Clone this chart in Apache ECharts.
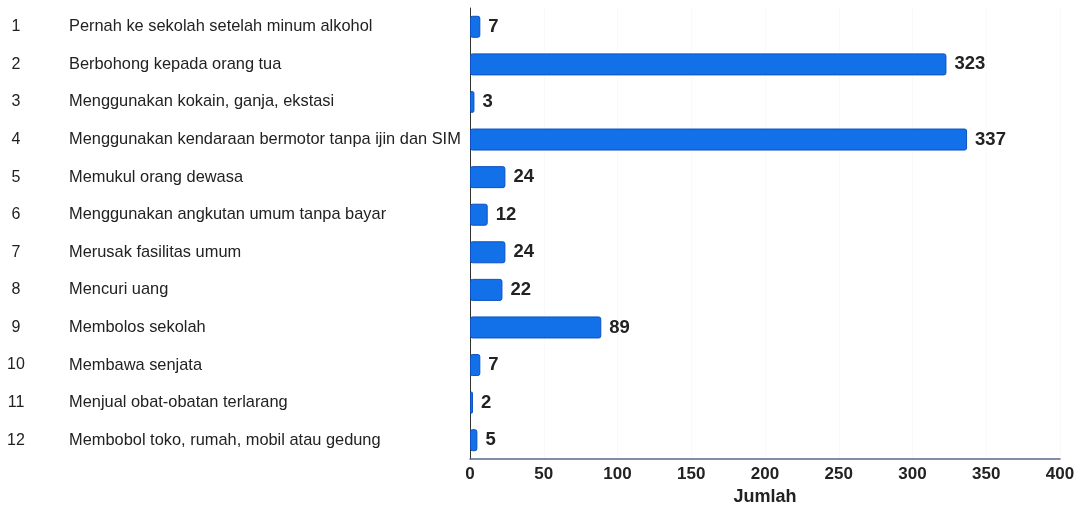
<!DOCTYPE html>
<html><head><meta charset="utf-8">
<script src="https://cdn.jsdelivr.net/npm/echarts@6/dist/echarts.min.js"></script>
<style>html,body{margin:0;padding:0;background:#fff}#c{width:1079px;height:509px}</style>
</head><body><div id="c"></div>
<script>
const numbers = ['1','2','3','4','5','6','7','8','9','10','11','12'];
const categories = [
  'Pernah ke sekolah setelah minum alkohol',
  'Berbohong kepada orang tua',
  'Menggunakan kokain, ganja, ekstasi',
  'Menggunakan kendaraan bermotor tanpa ijin dan SIM',
  'Memukul orang dewasa',
  'Menggunakan angkutan umum tanpa bayar',
  'Merusak fasilitas umum',
  'Mencuri uang',
  'Membolos sekolah',
  'Membawa senjata',
  'Menjual obat-obatan terlarang',
  'Membobol toko, rumah, mobil atau gedung'
];
const values = [7, 323, 3, 337, 24, 12, 24, 22, 89, 7, 2, 5];
const xTicks = [0, 50, 100, 150, 200, 250, 300, 350, 400];

const chart = echarts.init(document.getElementById('c'));
chart.setOption({
  animation: false,
  grid: {left: 470, right: 19, top: 8, bottom: 50, containLabel: false, outerBoundsMode: 'none'},
  xAxis: {
    type: 'value', min: 0, max: 400, interval: 50,
    name: 'Jumlah', nameLocation: 'middle', nameGap: 29,
    nameTextStyle: {fontFamily: 'Liberation Sans', fontWeight: 'bold', fontSize: 18, color: '#222'},
    axisLine: {show: true, lineStyle: {color: '#5a6a8a', width: 1.5}},
    axisTick: {show: false},
    splitLine: {show: true, lineStyle: {color: '#f4f4f4', type: 'dotted'}},
    axisLabel: {fontFamily: 'Liberation Sans', fontWeight: 'bold', fontSize: 17, color: '#222', margin: 7,
      formatter: v => xTicks.includes(v) ? String(v) : ''}
  },
  yAxis: {
    type: 'category', inverse: true,
    data: categories.map((c, i) => numbers[i] + '|' + c),
    axisLine: {show: true, lineStyle: {color: '#333', width: 1}},
    axisTick: {show: false},
    axisLabel: {
      align: 'left', margin: 470,
      formatter: v => { const p = v.split('|'); return '{n|' + p[0] + '}{t|' + p[1] + '}'; },
      rich: {
        n: {width: 32, align: 'center', fontFamily: 'Liberation Sans', fontSize: 16, color: '#222'},
        t: {padding: [0, 0, 0, 37], fontFamily: 'Liberation Sans', fontSize: 16.4, color: '#222'}
      }
    }
  },
  series: [{
    type: 'bar', data: values, barWidth: 22,
    itemStyle: {color: '#1270e8', borderColor: '#0c50c4', borderWidth: 1, borderRadius: 2},
    label: {show: true, position: 'right', distance: 8, fontFamily: 'Liberation Sans', fontWeight: 'bold', fontSize: 18.5, color: '#222'}
  }]
});
</script></body></html>
